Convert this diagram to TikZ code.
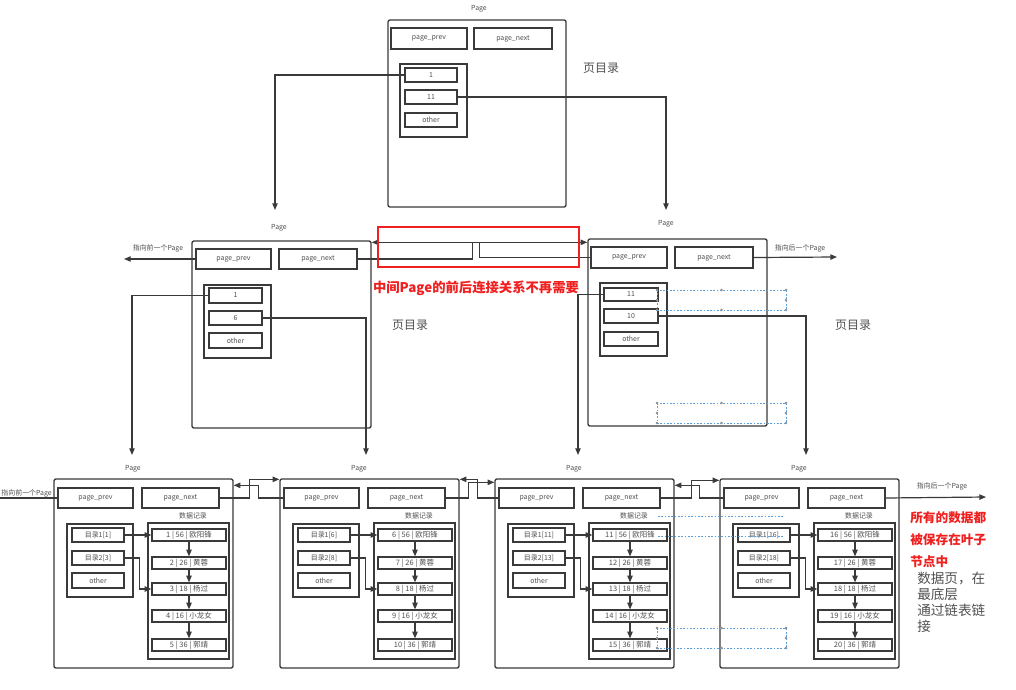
\documentclass[tikz,border=0pt]{standalone}
\usepackage{fontspec}
\setmainfont{Noto Sans CJK SC}
\usetikzlibrary{arrows.meta,calc}
\definecolor{ln}{HTML}{3A3A3A}
\definecolor{tx}{HTML}{505050}
\definecolor{selb}{HTML}{5AA0DC}
\definecolor{redc}{HTML}{F02020}
\tikzset{
  page/.style={draw=ln, line width=1pt, rounded corners=1.5pt, inner sep=0pt},
  cell/.style={draw=ln, line width=0.9pt, inner sep=0pt, text=tx, font=\fontsize{5.2}{6}\selectfont},
  rec/.style={cell, font=\fontsize{5.6}{6}\selectfont},
  grp/.style={draw=ln, line width=0.9pt, inner sep=0pt},
  lbl/.style={text=tx, font=\fontsize{5.2}{6}\selectfont, inner sep=0pt},
  big/.style={text=tx, font=\fontsize{9}{10}\selectfont, inner sep=0pt},
  conn/.style={draw=ln, line width=0.9pt},
  arr/.style={conn, -{Triangle[length=5pt,width=4pt]}},
  sel/.style={draw=selb, line width=0.7pt, dash pattern=on 1.2pt off 1.3pt},
  hdl/.style={draw=gray, fill=white, line width=0.4pt},
}
\newcommand\bx[7][cell]{\node[#1, minimum width={((#5)-(#3))*0.75pt}, minimum height={((#6)-(#4))*0.75pt}] (#2) at ({((#3)+(#5))/2},{((#4)+(#6))/2}) {#7};}
\newcommand\selbox[4]{%
  \draw[sel] (#1,#2) rectangle (#3,#4);
  \pgfmathsetmacro\hmx{(#1+#3)/2}
  \pgfmathsetmacro\hmy{(#2+#4)/2}
  \foreach \hx in {#1,\hmx,#3}{\foreach \hy in {#2,#4}{\draw[hdl] ({\hx},{\hy}) circle (1.1);}}
  \foreach \hx in {#1,#3}{\draw[hdl] ({\hx},{\hmy}) circle (1.1);}
}
\newcommand\leaf[9]{%
  \bx[page]{#1}{#2}{479}{#2+179}{668}{}
  \node[lbl] (#1lbl) at ({#2+79},469) {Page};
  \bx{#1prev}{#2+4}{488}{#2+79}{508}{page\_prev}
  \bx{#1next}{#2+88}{488}{#2+165}{508}{page\_next}
  \bx[grp]{#1dir}{#2+13}{524}{#2+79}{597}{}
  \bx{#1d1}{#2+18}{528}{#2+70}{542}{#3}
  \bx{#1d2}{#2+18}{551}{#2+70}{565}{#4}
  \bx{#1o}{#2+18}{573}{#2+70}{588}{other}
  \bx[grp]{#1data}{#2+94}{523}{#2+175}{659}{}
  \node[lbl] (#1dl) at ({#2+139},516) {数据记录};
  \bx[rec]{#1r1}{#2+98}{529}{#2+172}{541}{#5 | 56 | 欧阳锋}
  \bx[rec]{#1r2}{#2+98}{557}{#2+172}{569}{#6 | 26 | 黄蓉}
  \bx[rec]{#1r3}{#2+98}{583}{#2+172}{595}{#7 | 18 | 杨过}
  \bx[rec]{#1r4}{#2+98}{610}{#2+172}{622}{#8 | 16 | 小龙女}
  \bx[rec]{#1r5}{#2+98}{639}{#2+172}{651}{#9 | 36 | 郭靖}
  \draw[arr] (#1d1.east) -- (#1r1.west);
  \draw[arr] (#1d2.east) -- ++(15,0) |- (#1r3.west);
  \draw[arr] (#1r1.south) -- (#1r2.north);
  \draw[arr] (#1r2.south) -- (#1r3.north);
  \draw[arr] (#1r3.south) -- (#1r4.north);
  \draw[arr] (#1r4.south) -- (#1r5.north);
}
\begin{document}
\begin{tikzpicture}[x=0.75pt,y=-0.75pt]
\useasboundingbox (0,0) rectangle (1016,689);
\fill[white] (0,0) rectangle (1016,689);

% ---------- top page ----------
\bx[page]{tpage}{388}{20}{566}{207}{}
\node[lbl] (tlbl) at (479,9) {Page};
\bx{tprev}{391}{28}{467}{49}{page\_prev}
\bx{tnext}{474}{28}{552}{49}{page\_next}
\bx[grp]{tdir}{400}{64}{467}{137}{}
\bx{t1}{405}{68}{457}{82}{1}
\bx{t11}{405}{90}{457}{104}{11}
\bx{tother}{405}{113}{457}{127}{other}
\node[big] (tml) at (601,68) {页目录};

% ---------- middle left page ----------
\bx[page]{mlpage}{192}{241}{371}{428}{}
\node[lbl] (mllbl) at (279,228) {Page};
\bx{mlprev}{196}{249}{271}{269}{page\_prev}
\bx{mlnext}{279}{249}{357}{269}{page\_next}
\bx[grp]{mldir}{204}{285}{271}{358}{}
\bx{ml1}{209}{288}{262}{303}{1}
\bx{ml6}{209}{311}{262}{325}{6}
\bx{mlother}{209}{333}{262}{348}{other}
\node[big] (mlml) at (410,325) {页目录};

% ---------- middle right page ----------
\bx[page]{mrpage}{588}{239}{767}{426}{}
\node[lbl] (mrlbl) at (666,224) {Page};
\bx{mrprev}{591}{247}{667}{268}{page\_prev}
\bx{mrnext}{675}{247}{753}{268}{page\_next}
\bx[grp]{mrdir}{600}{283}{667}{356}{}
\bx{mr11}{604}{288}{658}{301}{11}
\bx{mr10}{604}{309}{658}{323}{10}
\bx{mrother}{604}{332}{658}{346}{other}
\node[big] (mrml) at (853,325) {页目录};

% ---------- leaf pages ----------
\leaf{pa}{54}{目录1[1]}{目录2[3]}{1}{2}{3}{4}{5}
\leaf{pb}{280}{目录1[6]}{目录2[8]}{6}{7}{8}{9}{10}
\leaf{pc}{495}{目录1[11]}{目录2[13]}{11}{12}{13}{14}{15}
\leaf{pd}{720}{目录1[16]}{目录2[18]}{16}{17}{18}{19}{20}

% ---------- top to middle ----------
\coordinate (e1) at (275,210);
\coordinate (e2) at (666,210);
\draw[arr] (t1.west) -| (e1);
\draw[arr] (t11.east) -| (e2);

% ---------- middle to leaves ----------
\coordinate (f1) at (132,455);
\coordinate (f2) at (366,455);
\coordinate (f3) at (578,455);
\coordinate (f4) at (806,455);
\draw[arr] (ml1.west) -| (f1);
\draw[arr] (ml6.east) -| (f2);
\draw[arr] (mr11.west) -| (f3);
\draw[arr] (mr10.east) -| (f4);

% ---------- middle level links ----------
\draw[arr] (mlnext.east) -- ++(115,0) |- ($(mrpage.north west)+(0,4)$);
\draw[arr] (mrprev.west) -- ++(-111,0) |- ($(mlpage.north east)+(0,2)$);
\coordinate (g1) at (124,259);
\coordinate (g2) at (837,257);
\draw[arr] (mlprev.west) -- (g1);
\draw[arr] (mrnext.east) -- (g2);
\node[lbl] (gl1) at (158,248) {指向前一个Page};
\node[lbl] (gl2) at (800,248) {指向后一个Page};

% red annotation
\draw[redc, line width=1pt] (378,227) rectangle (579,267);
\node[text=redc, font=\fontsize{10}{12}\selectfont\bfseries, inner sep=0pt] (rn) at (476,288) {中间Page的前后连接关系不再需要};

% ---------- leaf links ----------
\draw[arr] (panext.east) -- ++(30,0) |- ($(pb.north west)+(0,1)$);
\draw[arr] (pbprev.west) -- ++(-25,0) |- ($(pa.north east)+(0,7)$);
\draw[arr] (pbnext.east) -- ++(23,0) |- ($(pc.north west)+(0,4)$);
\draw[arr] (pcprev.west) -- ++(-21,0) |- ($(pb.north east)+(0,1)$);
\draw[arr] (pcnext.east) -- ++(31,0) |- ($(pd.north west)+(0,2)$);
\draw[arr] (pdprev.west) -- ++(-24,0) |- ($(pc.north east)+(0,7)$);
\coordinate (h1) at (-2,498);
\coordinate (h2) at (986,497);
\draw[conn] (paprev.west) -- (h1);
\draw[arr] (pdnext.east) -- (h2);
\node[lbl, anchor=east] (hl1) at (52,493) {指向前一个Page};
\node[lbl] (hl2) at (942,486) {指向后一个Page};

% ---------- selection marks ----------
\selbox{657}{290}{786}{310}
\selbox{657}{403}{786}{423}
\selbox{657}{628}{786}{648}
\draw[sel] (658,516) -- (783,516);
\draw[sel] (658,536) -- (783,536);

% ---------- right annotation ----------
\node[text=redc, font=\fontsize{9.5}{16.5}\selectfont\bfseries, align=left, anchor=north west, inner sep=0pt] (ra) at (910,511) {所有的数据都\\被保存在叶子\\节点中};
\node[text=tx, font=\fontsize{10.2}{12}\selectfont, align=left, anchor=north west, inner sep=0pt] (rb) at (917,572) {数据页，在\\最底层\\通过链表链\\接};
\end{tikzpicture}
\end{document}
